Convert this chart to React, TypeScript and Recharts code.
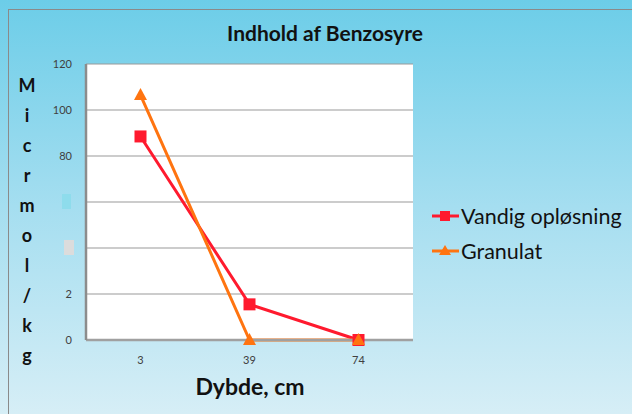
import React from "react"
import { CartesianGrid, Line, LineChart, XAxis, YAxis } from "recharts"

const depths = ["3", "39", "74"]
const vandig = [88.5, 15.5, 0]
const granulat = [106.5, 0, 0]
const yTicks = [0, 20, 40, 60, 80, 100, 120]
const yTickLabels = ["0", "2", "", "", "80", "100", "120"]
const yTitleLetters = ["M", "i", "c", "r", "m", "o", "l", "/", "k", "g"]

const RED = "#ff1a2e"
const ORANGE = "#ff7410"
const FONT = "Lato, 'Open Sans', sans-serif"

const data = depths.map((d, i) => ({
  depth: d,
  vandig: vandig[i],
  granulat: granulat[i],
}))

const Square = (props: any) => {
  const { cx, cy } = props
  return <rect x={cx - 6} y={cy - 6} width={12} height={12} fill={RED} />
}

const Triangle = (props: any) => {
  const { cx, cy } = props
  return (
    <polygon
      points={`${cx},${cy - 7} ${cx + 6.5},${cy + 5} ${cx - 6.5},${cy + 5}`}
      fill={ORANGE}
    />
  )
}

const YTick = (props: any) => {
  const { x, y, payload } = props
  const idx = yTicks.indexOf(payload.value)
  if (payload.value === 60)
    return <rect x={x - 16} y={y - 8} width={9} height={15} fill="#8edcec" />
  if (payload.value === 40)
    return <rect x={x - 14} y={y - 8} width={10} height={15} fill="#dcdcdc" />
  return (
    <text
      x={x - 6}
      y={y + 4}
      textAnchor="end"
      fontSize={11}
      fontFamily={FONT}
      fill="#404040"
    >
      {yTickLabels[idx]}
    </text>
  )
}

const legendItems = [
  { name: "Vandig opløsning", color: RED, shape: "square" },
  { name: "Granulat", color: ORANGE, shape: "triangle" },
]

const LegendBox = () => (
  <div style={{ position: "absolute", left: 431, top: 198 }}>
    {legendItems.map((it) => (
      <div
        key={it.name}
        style={{ display: "flex", alignItems: "center", height: 35 }}
      >
        <svg width={30} height={20}>
          <line x1={1} y1={10} x2={28} y2={10} stroke={it.color} strokeWidth={3} />
          {it.shape === "square" ? (
            <rect x={9} y={5} width={10} height={10} fill={it.color} />
          ) : (
            <polygon points="14,4 20,14 8,14" fill={it.color} />
          )}
        </svg>
        <span style={{ fontFamily: FONT, fontSize: 21.5, color: "#111" }}>
          {it.name}
        </span>
      </div>
    ))}
  </div>
)

export default function App() {
  return (
    <div
      style={{
        position: "absolute",
        left: 0,
        top: 0,
        width: 632,
        height: 414,
        background: "linear-gradient(#6ccde8 0%, #a5def0 50%, #d6eef6 100%)",
        overflow: "hidden",
      }}
    >
      <div
        style={{
          position: "absolute",
          left: 8,
          top: 9,
          width: 640,
          height: 420,
          borderLeft: "1.5px solid #8a8a8a",
          borderTop: "1.5px solid #8a8a8a",
        }}
      />
      <div
        style={{
          position: "absolute",
          left: 0,
          width: 632,
          top: 20,
          textAlign: "center",
          fontFamily: FONT,
          fontWeight: 700,
          fontSize: 21,
          color: "#111",
          paddingLeft: 18,
          boxSizing: "border-box",
        }}
      >
        Indhold af Benzosyre
      </div>
      {yTitleLetters.map((l, i) => (
        <div
          key={i}
          style={{
            position: "absolute",
            left: 12,
            width: 30,
            top: 74 + i * 30,
            textAlign: "center",
            fontFamily: FONT,
            fontWeight: 700,
            fontSize: 18,
            color: "#111",
          }}
        >
          {l}
        </div>
      ))}
      <div
        style={{
          position: "absolute",
          left: 150,
          width: 200,
          top: 372,
          textAlign: "center",
          fontFamily: FONT,
          fontWeight: 700,
          fontSize: 23,
          color: "#111",
        }}
      >
        Dybde, cm
      </div>
      <LegendBox />
      <div style={{ position: "absolute", left: 0, top: 0 }}>
        <LineChart
          width={632}
          height={414}
          data={data}
          margin={{ top: 64, right: 219, left: 0, bottom: 0 }}
        >
          <CartesianGrid
            vertical={false}
            fill="#ffffff"
            stroke="#9a9a9a"
            strokeWidth={1.2}
          />
          <XAxis
            dataKey="depth"
            height={74}
            padding={{ left: 54.5, right: 54.5 }}
            tickLine={false}
            axisLine={{ stroke: "#a0a0a0", strokeWidth: 2.5 }}
            tick={{ fontSize: 11, fontFamily: FONT, fill: "#404040" }}
            tickMargin={10}
          />
          <YAxis
            width={86}
            domain={[0, 120]}
            ticks={yTicks}
            tickLine={false}
            axisLine={{ stroke: "#8c8c8c", strokeWidth: 2.5 }}
            tick={<YTick />}
          />
          <YAxis
            yAxisId="r"
            orientation="right"
            width={0}
            domain={[0, 120]}
            tick={false}
            tickLine={false}
            axisLine={{ stroke: "#c8c8c8", strokeWidth: 1.5 }}
          />
          <Line
            dataKey="vandig"
            name="Vandig opløsning"
            stroke={RED}
            strokeWidth={3}
            dot={<Square />}
            isAnimationActive={false}
          />
          <Line
            dataKey="granulat"
            name="Granulat"
            stroke={ORANGE}
            strokeWidth={3}
            dot={<Triangle />}
            isAnimationActive={false}
          />
        </LineChart>
      </div>
    </div>
  )
}
